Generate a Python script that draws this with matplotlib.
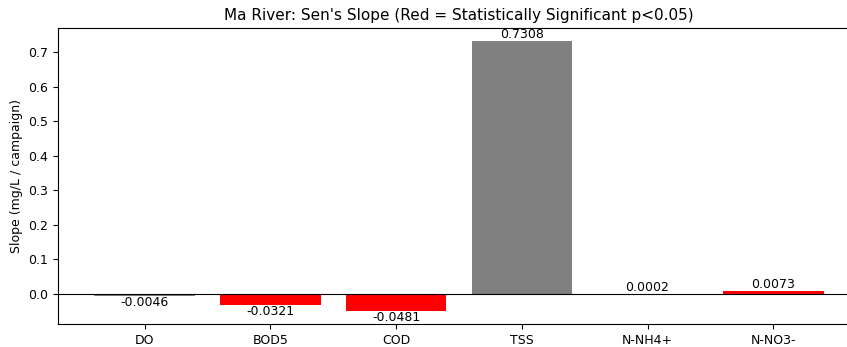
import matplotlib.pyplot as plt

params = ['DO', 'BOD5', 'COD', 'TSS', 'N-NH4+', 'N-NO3-']
slopes = [-0.0046, -0.0321, -0.0481, 0.7308, 0.0002, 0.0073]
significant = [False, True, True, False, False, True]

plt.rcParams['font.size'] = 9

fig = plt.figure(figsize=(8.47, 3.47), dpi=100)
# axes runs past the right edge, as in the cropped original
ax = fig.add_axes([58 / 847, 23 / 347, 802 / 847, 296 / 347])
ax.spines['right'].set_visible(False)

colors = ['red' if s else 'gray' for s in significant]
bars = ax.bar(params, slopes, color=colors)
ax.axhline(0, color='black', linewidth=0.8)

for bar, val in zip(bars, slopes):
    x = bar.get_x() + bar.get_width() / 2
    ax.text(x, val, f"{val:.4f}", ha='center',
            va='bottom' if val >= 0 else 'top')

ax.set_title("Ma River: Sen's Slope (Red = Statistically Significant p<0.05)", fontsize=11)
ax.set_ylabel('Slope (mg/L / campaign)')

fig.savefig('out.png')
